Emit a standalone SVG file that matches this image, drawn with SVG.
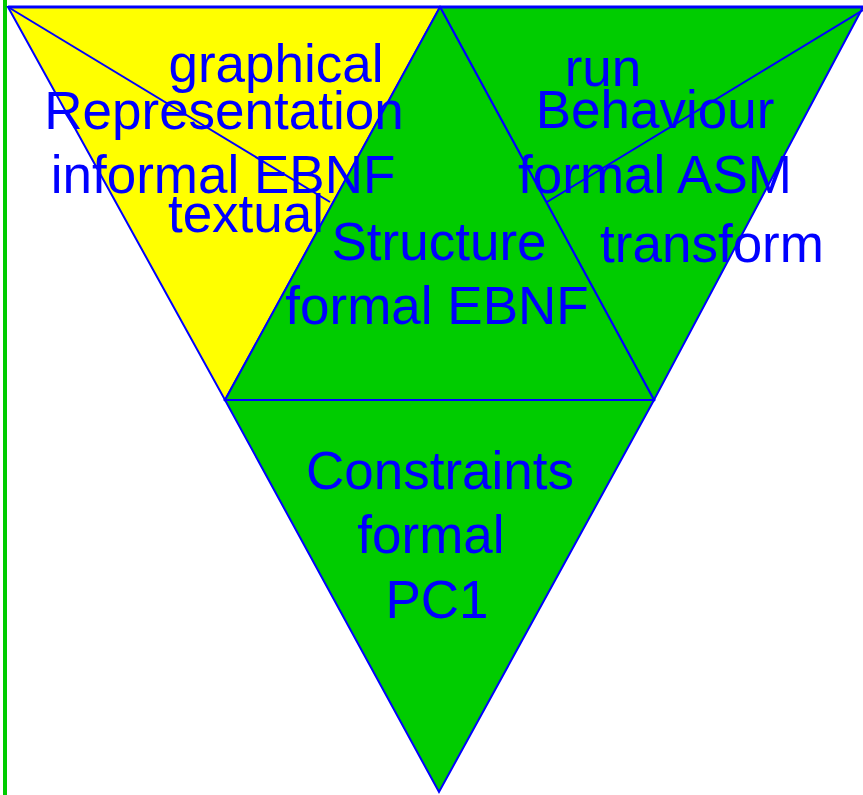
<svg xmlns="http://www.w3.org/2000/svg" width="863" height="795" viewBox="0 0 863 795">
  <style>
    .tri { stroke: #0000ff; stroke-width: 2; stroke-linejoin: miter; }
    .yellow { fill: #ffff00; }
    .green { fill: #00cc00; }
    .edge { stroke: #0000ff; stroke-width: 2; fill: none; }
    text { font-family: "Liberation Sans", Arial, sans-serif; font-size: 53px; fill: #0000ff; text-anchor: middle; }
  </style>
  <rect width="863" height="795" fill="#ffffff"/>
  <!-- left margin bar -->
  <rect x="3" y="0" width="4" height="795" fill="#00cc00"/>

  <g id="representation">
    <polygon class="tri yellow" points="8,7 440,7 225,400"/>
  </g>
  <g id="behaviour">
    <polygon class="tri green" points="440,7 863,7 654,400"/>
  </g>
  <g id="structure">
    <polygon class="tri green" points="440,7 654,400 225,400"/>
  </g>
  <g id="constraints">
    <polygon class="tri green" points="225,400 654,400 439,792"/>
  </g>
  <!-- heavier top edge -->
  <line x1="8" y1="7" x2="863" y2="7" stroke="#0000ff" stroke-width="3"/>

  <g id="connectors">
    <line class="edge" x1="8" y1="7" x2="330" y2="202"/>
    <line class="edge" x1="863" y1="10" x2="547" y2="202"/>
  </g>

  <g id="labels">
    <text x="276" y="82">graphical</text>
    <text x="224" y="129">Representation</text>
    <text x="223" y="193">informal EBNF</text>
    <text x="246" y="232">textual</text>
    <text x="603" y="86">run</text>
    <text x="655" y="128">Behaviour</text>
    <text x="655" y="193">formal ASM</text>
    <text x="712" y="262">transform</text>
    <text x="439" y="260">Structure</text>
    <text x="437" y="324">formal EBNF</text>
    <text x="440" y="489">Constraints</text>
    <text x="431" y="553">formal</text>
    <text x="437" y="618">PC1</text>
  </g>
</svg>
